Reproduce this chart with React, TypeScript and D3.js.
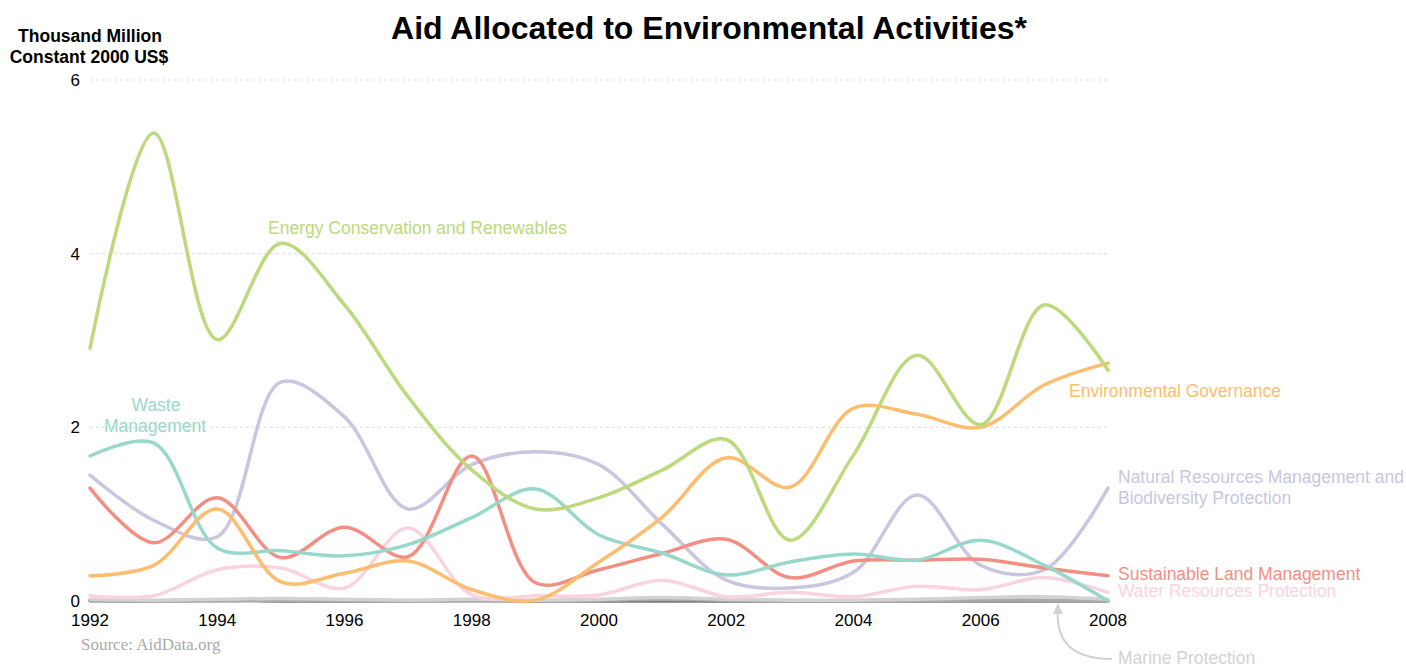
import React from "react";
import * as d3 from "d3";

const years = [1992,1993,1994,1995,1996,1997,1998,1999,2000,2001,2002,2003,2004,2005,2006,2007,2008];
const energy = [2.91,5.39,3.01,4.12,3.41,2.35,1.51,1.06,1.19,1.51,1.86,0.70,1.68,2.83,2.03,3.41,2.66];
const governance = [0.29,0.41,1.06,0.22,0.32,0.46,0.13,0.01,0.45,0.97,1.65,1.31,2.22,2.15,2.0,2.49,2.74];
const naturalRes = [1.45,0.93,0.74,2.52,2.12,1.06,1.57,1.72,1.57,0.88,0.24,0.15,0.33,1.22,0.41,0.36,1.30];
const landMgmt = [1.30,0.67,1.19,0.50,0.85,0.51,1.67,0.21,0.36,0.55,0.71,0.27,0.46,0.47,0.48,0.38,0.29];
const waste = [1.67,1.82,0.61,0.58,0.52,0.65,0.96,1.29,0.76,0.55,0.30,0.45,0.54,0.47,0.70,0.41,0.0];
const water = [0.06,0.06,0.36,0.38,0.15,0.84,0.07,0.06,0.07,0.24,0.05,0.10,0.05,0.17,0.13,0.27,0.10];
const marine = [0.02,0.01,0.02,0.03,0.02,0.01,0.02,0.01,0.02,0.04,0.02,0.01,0.01,0.02,0.04,0.05,0.02];
const otherA = [0.0,0.0,0.0,0.01,0.0,0.0,0.0,0.0,0.01,0.02,0.01,0.0,0.0,0.0,0.01,0.01,0.0];
const otherB = [0.01,0.0,0.01,0.0,0.0,0.0,0.01,0.0,0.0,0.0,0.0,0.0,0.0,0.0,0.0,0.0,0.0];
const yTicks = [0,2,4,6];
const xTicks = [1992,1994,1996,1998,2000,2002,2004,2006,2008];

const series = [
  { name: "otherB", values: otherB, color: "#777777" },
  { name: "otherA", values: otherA, color: "#aaaaaa" },
  { name: "Marine Protection", values: marine, color: "#d2d2d2" },
  { name: "Water Resources Protection", values: water, color: "#fad3e1" },
  { name: "Natural Resources Management", values: naturalRes, color: "#cac6e0" },
  { name: "Sustainable Land Management", values: landMgmt, color: "#f38f82" },
  { name: "Waste Management", values: waste, color: "#98d8cb" },
  { name: "Environmental Governance", values: governance, color: "#fdbd6e" },
  { name: "Energy Conservation and Renewables", values: energy, color: "#bcd97b" },
];

export default function App() {
  const W = 1406, H = 666;
  const x = d3.scaleLinear().domain([1992, 2008]).range([90, 1108]);
  const y = d3.scaleLinear().domain([0, 6]).range([601, 80]);
  const line = d3.line<number>()
    .x((_, i) => x(years[i]))
    .y((d) => y(d))
    .curve(d3.curveCatmullRom.alpha(0.5));
  const font = "'Liberation Sans', Arial, sans-serif";
  return (
    <svg width={W} height={H} style={{ position: "absolute", left: 0, top: 0 }}>
      <text x={709} y={39} textAnchor="middle" fontFamily={font} fontWeight="bold" fontSize={32} fill="#000">
        Aid Allocated to Environmental Activities*
      </text>
      <text x={90} y={42} textAnchor="middle" fontFamily={font} fontWeight="bold" fontSize={17.5} fill="#000">
        Thousand Million
      </text>
      <text x={89} y={63} textAnchor="middle" fontFamily={font} fontWeight="bold" fontSize={17.5} fill="#000">
        Constant 2000 US$
      </text>
      {yTicks.map((t) => (
        <g key={t}>
          {t > 0 && (
            <line x1={90} x2={1108} y1={y(t)} y2={y(t)} stroke="#ddd" strokeWidth={1} strokeDasharray="3,3" />
          )}
          <text x={80} y={y(t) + 6} textAnchor="end" fontFamily={font} fontSize={17} fill="#000">{t}</text>
        </g>
      ))}
      {xTicks.map((t) => (
        <text key={t} x={x(t)} y={626} textAnchor="middle" fontFamily={font} fontSize={17} fill="#000">{t}</text>
      ))}
      {series.map((s) => (
        <path key={s.name} d={line(s.values) || ""} fill="none" stroke={s.color} strokeWidth={3.5} strokeLinecap="round" />
      ))}
      <text x={81} y={650} fontFamily="'Liberation Serif', serif" fontSize={17} fill="#aaa">
        Source: AidData.org
      </text>
      <g fontFamily={font} fontSize={17.5}>
        <text x={268} y={234} fill="#bcd97b">Energy Conservation and Renewables</text>
        <text x={156} y={411} textAnchor="middle" fill="#98d8cb">Waste</text>
        <text x={155} y={432} textAnchor="middle" fill="#98d8cb">Management</text>
        <text x={1069} y={397} fill="#fdbd6e">Environmental Governance</text>
        <text x={1118} y={483} fill="#cac6e0">Natural Resources Management and</text>
        <text x={1118} y={504} fill="#cac6e0">Biodiversity Protection</text>
        <text x={1118} y={580} fill="#f38f82">Sustainable Land Management</text>
        <text x={1118} y={597} fill="#fad3e1">Water Resources Protection</text>
        <text x={1118} y={664} fill="#d2d2d2">Marine Protection</text>
      </g>
      <path d="M1112,659 C1070,659 1055,640 1058,606" fill="none" stroke="#d2d2d2" strokeWidth={2} />
      <path d="M1053,614 L1058,603 L1063,614 Z" fill="#d2d2d2" />
    </svg>
  );
}
